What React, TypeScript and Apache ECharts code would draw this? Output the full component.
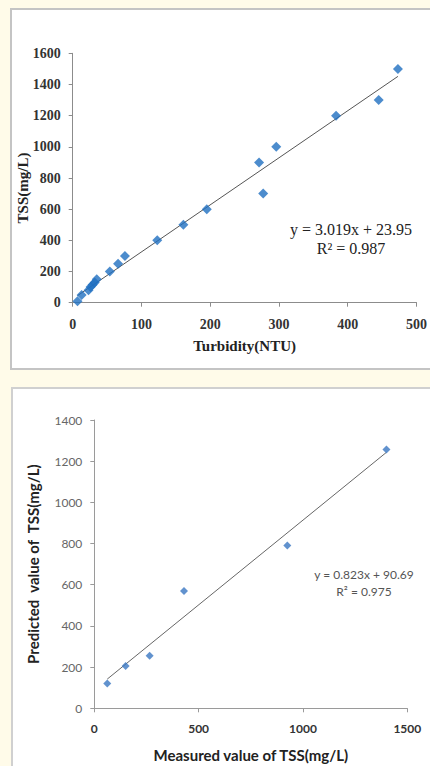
import React, { useEffect, useRef } from "react";
import * as echarts from "echarts";

// Chart 1: Turbidity vs TSS
const turbidity = [7, 13, 23, 26, 29, 32, 35, 54, 66, 76, 123, 161, 195, 271, 277, 296, 383, 445, 473];
const tss = [10, 50, 80, 100, 115, 130, 150, 200, 250, 300, 400, 500, 600, 900, 700, 1000, 1200, 1300, 1500];
const fit1 = [3.019, 23.95]; // slope, intercept
const eq1 = ["y = 3.019x + 23.95", "R² = 0.987"];
const xTicks1 = [0, 500, 100];
const yTicks1 = [0, 1600, 200];

// Chart 2: measured vs predicted TSS
const measured = [62, 150, 265, 430, 925, 1400];
const predicted = [120, 205, 255, 570, 790, 1257];
const fit2 = [0.823, 90.69];
const eq2 = ["y = 0.823x + 90.69", "R² = 0.975"];
const xTicks2 = [0, 1500, 500];
const yTicks2 = [0, 1400, 200];

function trend(xs: number[], fit: number[]) {
  const lo = Math.min(...xs);
  const hi = Math.max(...xs);
  return [
    [lo, fit[0] * lo + fit[1]],
    [hi, fit[0] * hi + fit[1]],
  ];
}

const plain = (v: number) => String(v);

export default function App() {
  const ref = useRef<HTMLDivElement>(null);
  useEffect(() => {
    document.body.style.margin = "0";
    const chart = echarts.init(ref.current!, null, { renderer: "svg" });
    const serif = "Liberation Serif";
    const sans = "Lato";
    chart.setOption({
      animation: false,
      backgroundColor: "#fffbe9",
      graphic: [
        {
          type: "rect",
          shape: { x: 11, y: 9, width: 440, height: 360 },
          style: { fill: "#ffffff", stroke: "#c4c4c4", lineWidth: 2 },
          z: -10,
        },
        {
          type: "rect",
          shape: { x: 12, y: 388, width: 440, height: 400 },
          style: { fill: "#ffffff", stroke: "#d0d0d0", lineWidth: 2 },
          z: -10,
        },
        {
          type: "text",
          x: 351,
          y: 229,
          style: { text: eq1[0], font: `16px "${serif}"`, fill: "#222", align: "center", verticalAlign: "middle" },
        },
        {
          type: "text",
          x: 351,
          y: 248,
          style: { text: eq1[1], font: `16px "${serif}"`, fill: "#222", align: "center", verticalAlign: "middle" },
        },
        {
          type: "text",
          x: 364,
          y: 574,
          style: { text: eq2[0], font: `12px "${sans}"`, fill: "#555", align: "center", verticalAlign: "middle" },
        },
        {
          type: "text",
          x: 364,
          y: 591,
          style: { text: eq2[1], font: `12px "${sans}"`, fill: "#555", align: "center", verticalAlign: "middle" },
        },
        {
          type: "text",
          x: 23,
          y: 188,
          rotation: Math.PI / 2,
          style: {
            text: "TSS(mg/L)",
            font: `bold 15px "${serif}"`,
            fill: "#222",
            align: "center",
            verticalAlign: "middle",
          },
        },
      ],
      grid: [
        { left: 72.7, top: 53.3, width: 348, height: 249.4 },
        { left: 94.3, top: 420, width: 313, height: 288.3 },
      ],
      xAxis: [
        {
          gridIndex: 0,
          type: "value",
          min: xTicks1[0],
          max: xTicks1[1],
          interval: xTicks1[2],
          splitLine: { show: false },
          axisLine: { lineStyle: { color: "#8c8c8c" } },
          axisTick: { show: true, length: 4, lineStyle: { color: "#8c8c8c" } },
          axisLabel: { fontFamily: serif, fontWeight: "bold", fontSize: 14, color: "#333", margin: 15, formatter: plain },
          name: "Turbidity(NTU)",
          nameLocation: "middle",
          nameGap: 36,
          nameMoveOverlap: false,
          nameTextStyle: { fontFamily: serif, fontWeight: "bold", fontSize: 15, color: "#222" },
        },
        {
          gridIndex: 1,
          type: "value",
          min: xTicks2[0],
          max: xTicks2[1],
          interval: xTicks2[2],
          splitLine: { show: false },
          axisLine: { lineStyle: { color: "#9a9a9a" } },
          axisTick: { show: true, length: 4, lineStyle: { color: "#9a9a9a" } },
          axisLabel: { fontFamily: sans, fontWeight: "bold", fontSize: 12, color: "#333", margin: 14, formatter: plain },
          name: "Measured value of TSS(mg/L)",
          nameLocation: "middle",
          nameGap: 39,
          nameMoveOverlap: false,
          nameTextStyle: { fontFamily: sans, fontWeight: "bold", fontSize: 15, color: "#222" },
        },
      ],
      yAxis: [
        {
          gridIndex: 0,
          type: "value",
          min: yTicks1[0],
          max: yTicks1[1],
          interval: yTicks1[2],
          splitLine: { show: false },
          axisLine: { show: true, lineStyle: { color: "#8c8c8c" } },
          axisTick: { show: true, length: 4, lineStyle: { color: "#8c8c8c" } },
          axisLabel: { fontFamily: serif, fontWeight: "bold", fontSize: 14, color: "#333", margin: 12, formatter: plain },
        },
        {
          gridIndex: 1,
          type: "value",
          min: yTicks2[0],
          max: yTicks2[1],
          interval: yTicks2[2],
          splitLine: { show: false },
          axisLine: { show: true, lineStyle: { color: "#9a9a9a" } },
          axisTick: { show: true, length: 4, lineStyle: { color: "#9a9a9a" } },
          axisLabel: { fontFamily: sans, fontSize: 12, color: "#666", margin: 12, formatter: plain },
          name: "Predicted  value of  TSS(mg/L)",
          nameLocation: "middle",
          nameGap: 54,
          nameMoveOverlap: false,
          nameTextStyle: { fontFamily: sans, fontWeight: "bold", fontSize: 15, color: "#222" },
        },
      ],
      series: [
        {
          type: "line",
          xAxisIndex: 0,
          yAxisIndex: 0,
          data: trend(turbidity, fit1),
          showSymbol: false,
          lineStyle: { color: "#555", width: 1 },
          z: 1,
        },
        {
          type: "scatter",
          xAxisIndex: 0,
          yAxisIndex: 0,
          data: turbidity.map((x, i) => [x, tss[i]]),
          symbol: "diamond",
          symbolSize: 10,
          itemStyle: { color: "#1f6fc0" },
          z: 2,
        },
        {
          type: "line",
          xAxisIndex: 1,
          yAxisIndex: 1,
          data: trend(measured, fit2),
          showSymbol: false,
          lineStyle: { color: "#666", width: 1 },
          z: 1,
        },
        {
          type: "scatter",
          xAxisIndex: 1,
          yAxisIndex: 1,
          data: measured.map((x, i) => [x, predicted[i]]),
          symbol: "diamond",
          symbolSize: 8,
          itemStyle: { color: "#3a77c2" },
          z: 2,
        },
      ],
    });
    return () => chart.dispose();
  }, []);
  return <div ref={ref} style={{ width: 430, height: 766 }} />;
}
